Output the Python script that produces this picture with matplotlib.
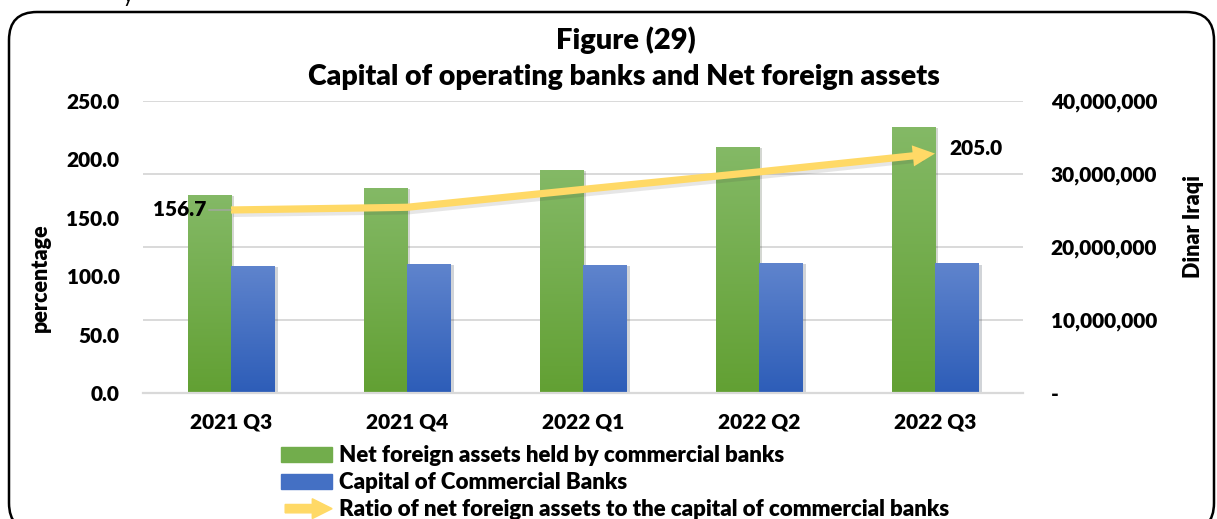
import matplotlib
matplotlib.use("Agg")
import matplotlib.pyplot as plt
import matplotlib.patches as mpatches
import matplotlib.patheffects as pe
from matplotlib.colors import LinearSegmentedColormap
from matplotlib.legend_handler import HandlerPatch
from matplotlib.transforms import IdentityTransform
from matplotlib.ticker import FuncFormatter
import numpy as np

plt.rcParams['font.family'] = ['Lato', 'DejaVu Sans']
plt.rcParams['font.weight'] = 'heavy'
plt.rcParams['axes.labelweight'] = 'heavy'

quarters = ['2021 Q3', '2021 Q4', '2022 Q1', '2022 Q2', '2022 Q3']
net_foreign = [27120000, 28080000, 30550000, 33700000, 36480000]
capital = [17400000, 17670000, 17530000, 17800000, 17770000]
ratio = [156.7, 159.0, 174.3, 189.3, 205.0]

green_lo, green_hi = '#62a033', '#84b966'
blue_lo, blue_hi = '#2d5db8', '#5f84cd'
yellow = '#ffd966'
fs = 15

W, H = 1217, 519
fig = plt.figure(figsize=(W / 100, H / 100), dpi=100)
fig.subplots_adjust(left=143 / W, right=1023 / W, bottom=1 - 393 / H, top=1 - 101 / H)
ax1 = fig.add_subplot(111)
ax2 = ax1.twinx()
ax1.set_zorder(ax2.get_zorder() + 1)
ax1.patch.set_visible(False)

# rounded frame around the chart, in pixels; its lower edge runs off the page
frame = mpatches.FancyBboxPatch((9, -12), 1205, H, boxstyle='round,pad=0,rounding_size=28',
                                transform=IdentityTransform(), fc='none', ec='black', lw=1.8)
fig.patches.append(frame)
fig.text(123 / W, 1 - 2 / H, 'y', fontsize=fs, fontweight='normal', va='baseline', ha='left')

x = np.arange(len(quarters))
bw = 0.245


def gradient_bars(ax, xs, vals, lo, hi):
    bars = ax.bar(xs, vals, bw, color=hi, zorder=2,
                  path_effects=[pe.SimplePatchShadow(offset=(2.5, -1), alpha=0.2), pe.Normal()])
    cmap = LinearSegmentedColormap.from_list('g', [lo, hi])
    grad = np.linspace(0, 1, 256).reshape(-1, 1)
    for b in bars:
        im = ax.imshow(grad, extent=[b.get_x(), b.get_x() + b.get_width(), 0, b.get_height()],
                       origin='lower', aspect='auto', cmap=cmap, zorder=2.1)
        im.set_clip_path(b)
    return bars


gradient_bars(ax2, x - bw / 2, net_foreign, green_lo, green_hi)
gradient_bars(ax2, x + bw / 2, capital, blue_lo, blue_hi)

ax1.set_xlim(-0.5, len(quarters) - 0.5)
ax1.set_ylim(0, 250)
ax2.set_ylim(0, 40000000)
ax2.set_yticks(np.arange(0, 40000001, 10000000))
ax1.set_yticks(np.arange(0, 251, 50))

ax2.set_axisbelow(True)
ax2.yaxis.grid(True, color='#d9d9d9', lw=1.4)
ax1.grid(False)
for s in ax1.spines.values():
    s.set_visible(False)
for k, s in ax2.spines.items():
    s.set_visible(k == 'bottom')
ax2.spines['bottom'].set_color('#d9d9d9')
ax2.spines['bottom'].set_linewidth(1.6)
ax2.spines['bottom'].set_zorder(3)

ax1.set_xticks(x)
ax1.set_xticklabels(quarters)
ax1.tick_params(axis='x', length=0, pad=14, labelsize=fs)
ax1.tick_params(axis='y', length=0, pad=17, labelsize=fs)
ax2.tick_params(axis='y', length=0, pad=20, labelsize=fs)
ax1.yaxis.set_major_formatter(FuncFormatter(lambda v, p: f'{v:.1f}'))
ax2.yaxis.set_major_formatter(FuncFormatter(lambda v, p: '-' if v == 0 else f'{v:,.0f}'))

ax1.set_ylabel('percentage', fontsize=15.5)
ax1.yaxis.set_label_coords(-0.105, 0.396)
ax2.set_ylabel('Dinar Iraqi', fontsize=15.5, rotation=90)
ax2.yaxis.set_label_coords(1.182, 0.57)

# ratio line ending in an arrow head at the last quarter
tr = ax1.transData
p3 = tr.transform((x[-2], ratio[-2]))
p4 = tr.transform((x[-1], ratio[-1]))
u = (p4 - p3) / np.hypot(*(p4 - p3))
base = tr.inverted().transform(p4 - u * 14)
lx = list(x[:-1]) + [base[0]]
ly = ratio[:-1] + [base[1]]
ax1.plot(lx, ly, color=yellow, lw=5.2, solid_capstyle='butt', solid_joinstyle='round', zorder=4,
         path_effects=[pe.SimpleLineShadow(offset=(1.5, -2.5), alpha=0.13, shadow_color='#444444'),
                       pe.Normal()])
ax1.annotate('', xy=(x[-1], ratio[-1]), xytext=(base[0], base[1]),
             arrowprops=dict(arrowstyle='-|>,head_length=0.8,head_width=0.38', color=yellow, lw=0,
                             shrinkA=0, shrinkB=0, mutation_scale=20), zorder=5)

ax1.annotate(f'{ratio[0]:.1f}', xy=(x[0], ratio[0]), xytext=(-18, 0), textcoords='offset points',
             ha='right', va='center', fontsize=fs,
             arrowprops=dict(arrowstyle='-', color='#a6a6a6', lw=1, shrinkA=0, shrinkB=0), zorder=5)
ax1.annotate(f'{ratio[-1]:.1f}', xy=(x[-1], ratio[-1]), xytext=(10, 4), textcoords='offset points',
             ha='left', va='center', fontsize=fs, zorder=5)

fig.text(626 / W, 1 - 40 / H, 'Figure (29)', ha='center', va='center', fontsize=21)
fig.text(624 / W, 1 - 77 / H, 'Capital of operating banks and Net foreign assets',
         ha='center', va='center', fontsize=20.5)


class ArrowHandler(HandlerPatch):
    def create_artists(self, legend, orig_handle, xdescent, ydescent, width, height, fontsize, trans):
        a = mpatches.FancyArrow(-xdescent + 3, height / 2 - ydescent, width - 3, 0,
                                width=height * 0.55, head_width=height * 1.3, head_length=height * 1.3,
                                length_includes_head=True, color=yellow, transform=trans)
        return [a]


h_green = mpatches.Patch(color='#72ad4c')
h_blue = mpatches.Patch(color='#4470c4')
h_ratio = mpatches.Patch(color=yellow)
fig.legend([h_green, h_blue, h_ratio],
           ['Net foreign assets held by commercial banks', 'Capital of Commercial Banks',
            'Ratio of net foreign assets to the capital of commercial banks'],
           handler_map={h_ratio: ArrowHandler()},
           loc='upper left', bbox_to_anchor=(281 / W, 1 - 445 / H), frameon=False, fontsize=16,
           borderpad=0, borderaxespad=0, handlelength=2.3, handleheight=0.68, handletextpad=0.3,
           labelspacing=0.28)

fig.savefig('out.png', dpi=100)
